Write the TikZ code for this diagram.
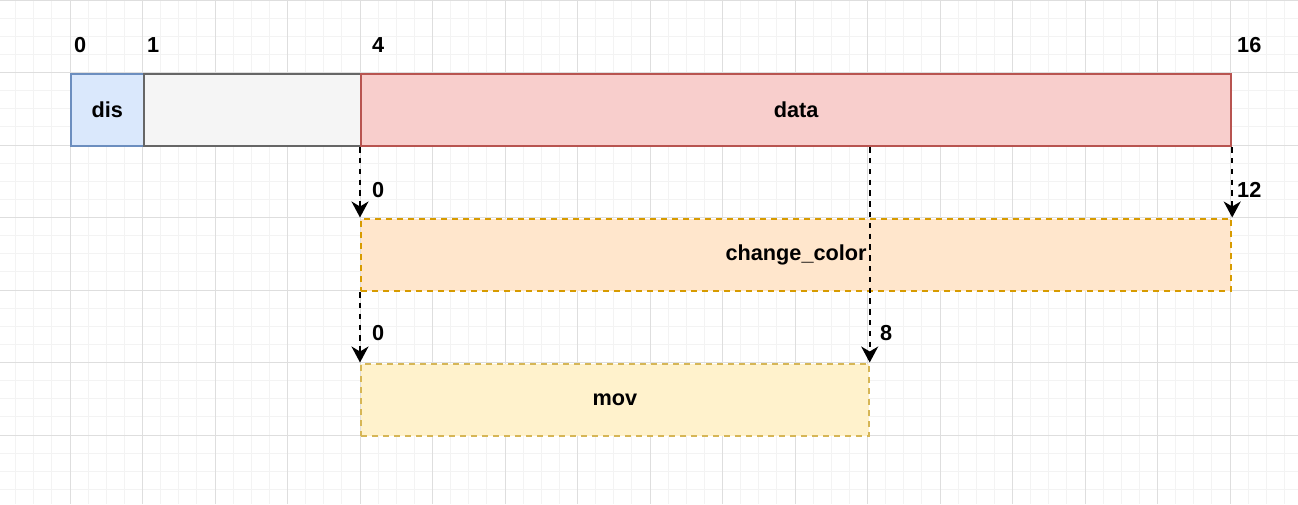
\documentclass[tikz,border=0pt]{standalone}
\usepackage{fontspec}
\setmainfont{Liberation Sans}
\usetikzlibrary{arrows.meta,positioning,calc}

\definecolor{disfill}{HTML}{DAE8FC}
\definecolor{disline}{HTML}{6C8EBF}
\definecolor{padfill}{HTML}{F5F5F5}
\definecolor{padline}{HTML}{666666}
\definecolor{datafill}{HTML}{F8CECC}
\definecolor{dataline}{HTML}{B85450}
\definecolor{ccfill}{HTML}{FFE6CC}
\definecolor{ccline}{HTML}{D79B00}
\definecolor{movfill}{HTML}{FFF2CC}
\definecolor{movline}{HTML}{D6B656}
\definecolor{gridminor}{HTML}{F3F3F3}
\definecolor{gridmajor}{HTML}{DEDEDE}

\begin{document}
\begin{tikzpicture}[
    x=1pt, y=-1pt,
    block/.style={rectangle, draw, line width=2.2pt, inner sep=0pt, anchor=north west, font=\fontsize{21.7}{26}\selectfont\bfseries},
    slot/.style={block, dash pattern=on 6pt off 5pt},
    idx/.style={anchor=west, inner sep=0pt, font=\fontsize{21.7}{26}\selectfont\bfseries},
    arrow/.style={-{Stealth[length=16pt, width=17pt, inset=5pt]}, line width=2pt, dash pattern=on 5.4pt off 5.4pt}
]
\useasboundingbox[fill=white] (0,0) rectangle (1298,504);

% Background grid
\begin{scope}[xshift=-2.5pt]
\draw[gridminor, line width=1pt, step=18.125pt] (0,0) grid (1302,504);
\draw[gridmajor, line width=1pt, step=72.5pt] (0,0) grid (1302,504);
\end{scope}

% Fields
\node[block, fill=disfill, draw=disline, minimum width=72.5pt, minimum height=72.5pt] (dis) at (70,72.5) {dis};
\node[block, fill=padfill, draw=padline, minimum width=217.5pt, minimum height=72.5pt] (pad) at (142.5,72.5) {};
\node[block, fill=datafill, draw=dataline, minimum width=870pt, minimum height=72.5pt] (data) at (360,72.5) {data};

% Sub-layouts
\node[slot, fill=ccfill, draw=ccline, minimum width=870pt, minimum height=72.5pt] (cc) at (360,217.5) {change\_color};
\node[slot, fill=movfill, draw=movline, minimum width=507.5pt, minimum height=72.5pt] (mov) at (360,362.5) {mov};

% Offsets
\node[idx] (o0) at (74,45) {0};
\node[idx] (o1) at (147,45) {1};
\node[idx] (o4) at (372,45) {4};
\node[idx] (o16) at (1237,45) {16};
\node[idx] (c0) at (372,190) {0};
\node[idx] (c12) at (1237,190) {12};
\node[idx] (m0) at (372,333) {0};
\node[idx] (m8) at (880,333) {8};

% Mapping
\draw[arrow] (data.south west) -- (cc.north west);
\draw[arrow] (data.south east) -- (cc.north east);
\draw[arrow] (cc.south west) -- (mov.north west);
\draw[arrow] (mov.north east |- data.south) -- (mov.north east);

\end{tikzpicture}
\end{document}
